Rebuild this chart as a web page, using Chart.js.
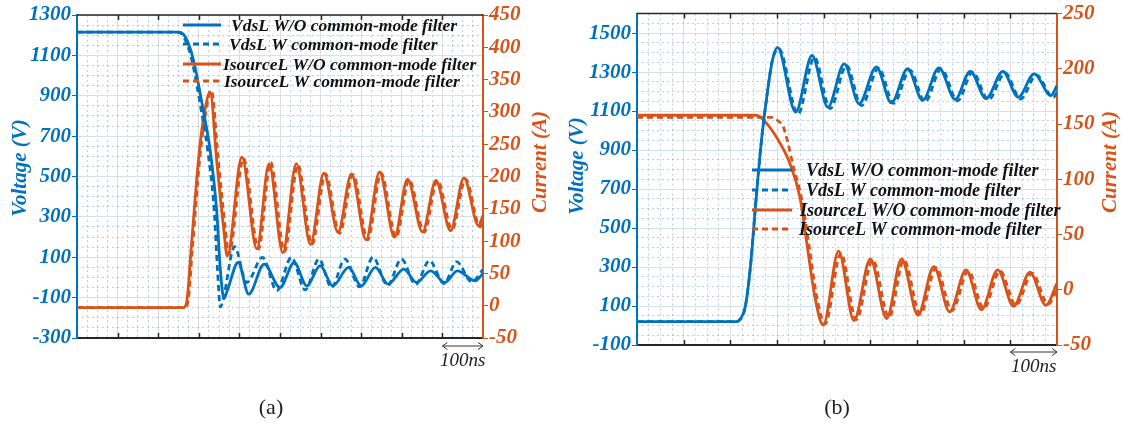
<!DOCTYPE html>
<html>
<head>
<meta charset="utf-8">
<script src="https://cdn.jsdelivr.net/npm/chart.js@4.4.1/dist/chart.umd.min.js"></script>
<style>
	html, body { margin: 0; padding: 0; background: #fff; }
	body { width: 1128px; height: 426px; position: relative; overflow: hidden; }
	.panel { position: absolute; top: 0; width: 564px; height: 426px; }
	#panel-a { left: 0; }
	#panel-b { left: 564px; }
	.caption { position: absolute; top: 394px; line-height: 26px; font: 22px "Liberation Serif", serif; color: #222; transform: translateX(-50%); }
</style>
</head>
<body>
<div class="panel" id="panel-a"><canvas id="chart-a"></canvas></div>
<div class="panel" id="panel-b"><canvas id="chart-b"></canvas></div>
<div class="caption" style="left:271px">(a)</div>
<div class="caption" style="left:837px">(b)</div>
<script>
// legend text, same for both panels
const legendLabels = [
	"VdsL W/O common-mode filter",
	"VdsL W common-mode filter",
	"IsourceL W/O common-mode filter",
	"IsourceL W common-mode filter",
];
const voltageTitle = "Voltage (V)";
const currentTitle = "Current (A)";
const scaleBarLabel = "100ns";

//* panel (a): time in ns, voltage in V, current in A
const aTimeTicks = [0, 100, 200, 300, 400, 500, 600, 700, 800, 900, 1000];
const aVoltTicks = [-300, -100, 100, 300, 500, 700, 900, 1100, 1300];
const aCurrTicks = [-50, 0, 50, 100, 150, 200, 250, 300, 350, 400, 450];

const aVdsWoT = [0, 250, 262, 274, 287, 311, 328, 344, 353, 362, 371, 397, 423, 461, 500, 535, 566, 599, 630, 669, 700, 735, 766, 805, 836, 871, 906, 937, 981, 1000];
const aVdsWoV = [1215, 1215, 1205, 1161, 1076, 828, 629, 331, 40, -105, -60, 74, -83, 66, -50, 74, -42, 58, -42, 50, -42, 50, -33, 41, -25, 33, -25, 33, -17, 20];
const aVdsWT = [0, 246, 258, 270, 283, 306, 322, 338, 346, 353, 360, 388, 418, 457, 492, 528, 562, 596, 627, 660, 696, 729, 765, 799, 834, 868, 904, 935, 972, 1000];
const aVdsWV = [1215, 1215, 1205, 1161, 1076, 828, 629, 331, 40, -146, -110, 152, -25, 99, -65, 99, -62, 91, -50, 91, -47, 100, -40, 91, -35, 83, -30, 78, -22, 40];
const aIsWoT = [0, 262, 270, 282, 299, 311, 328, 344, 361, 370, 406, 443, 473, 507, 540, 575, 608, 643, 676, 712, 745, 782, 814, 851, 884, 920, 953, 989, 1000];
const aIsWoV = [-3, -3, 5, 95, 225, 287, 331, 225, 121, 77, 230, 88, 220, 82, 220, 95, 205, 114, 204, 102, 207, 106, 196, 114, 194, 116, 198, 124, 140];
const aIsWT = [0, 264, 273, 285, 302, 314, 331, 348, 365, 374, 410, 447, 477, 511, 544, 579, 612, 647, 680, 716, 749, 786, 818, 855, 888, 924, 957, 993, 1000];
const aIsWV = [-3, -3, 5, 95, 225, 287, 333, 225, 121, 80, 228, 88, 222, 84, 218, 95, 204, 112, 203, 102, 205, 106, 195, 114, 194, 118, 196, 122, 130];

//* panel (b)
const bTimeTicks = [0, 100, 200, 300, 400, 500, 600, 700, 800, 900];
const bVoltTicks = [-100, 100, 300, 500, 700, 900, 1100, 1300, 1500];
const bCurrTicks = [-50, 0, 50, 100, 150, 200, 250];

const bVdsWoT = [0, 212, 222, 232, 243, 255, 266, 278, 290, 301, 340, 375, 409, 444, 476, 513, 545, 580, 612, 647, 682, 714, 748, 784, 817, 851, 887, 900];
const bVdsWoV = [20, 20, 35, 96, 301, 643, 933, 1171, 1359, 1427, 1095, 1385, 1120, 1342, 1138, 1327, 1142, 1317, 1155, 1322, 1160, 1304, 1164, 1303, 1171, 1291, 1180, 1231];
const bVdsWT = [0, 212, 222, 232, 243, 255, 266, 278, 290, 304, 345, 380, 414, 449, 481, 518, 550, 585, 617, 652, 687, 719, 753, 789, 822, 856, 892, 900];
const bVdsWV = [20, 20, 35, 96, 301, 643, 933, 1171, 1359, 1420, 1085, 1375, 1112, 1333, 1128, 1320, 1140, 1310, 1148, 1316, 1152, 1300, 1158, 1296, 1162, 1285, 1170, 1195];
const bIsWoT = [0, 255, 268, 299, 328, 349, 364, 381, 399, 432, 465, 500, 535, 567, 602, 636, 670, 705, 738, 773, 807, 842, 876, 900];
const bIsWoV = [158, 158, 155, 138, 114, 84, 42, -6, -32, 35, -28, 28, -26, 28, -23, 21, -20, 18, -18, 18, -15, 16, -14, 6];
const bIsWT = [0, 290, 302, 313, 324, 333, 352, 368, 385, 403, 437, 470, 505, 540, 572, 607, 641, 675, 710, 743, 778, 812, 847, 881, 900];
const bIsWV = [156, 156, 153, 148, 132, 115, 84, 42, -6, -31, 33, -27, 27, -25, 27, -22, 20, -19, 17, -17, 17, -14, 15, -13, 0];

const blue = "#0072BD";
const orange = "#D95319";
const serif = '"Liberation Serif", "Times New Roman", serif';
const tickFont = { family: serif, size: 21, style: "italic", weight: "bold" };

function toPoints(t, v) {
	return t.map((tt, i) => ({ x: tt, y: v[i] }));
}

function lineSet(label, t, v, color, dashed, axis) {
	return {
		label: label,
		data: toPoints(t, v),
		borderColor: color,
		backgroundColor: color,
		borderWidth: 2.8,
		borderDash: dashed ? [6, 4] : [],
		pointRadius: 0,
		cubicInterpolationMode: "monotone",
		yAxisID: axis,
		fill: false,
	};
}

function stepTicks(min, max, step) {
	const out = [];
	for (let v = min; v <= max + 1e-9; v += step) out.push(v);
	return out;
}

function onStep(v, base, step) {
	const r = (v - base) / step;
	return Math.abs(r - Math.round(r)) < 1e-6;
}

//* frame, inside ticks, legend, axis titles and the 100ns scale bar
const sketchDecor = {
	id: "sketchDecor",
	afterDatasetsDraw(chart, args, opts) {
		const { ctx, chartArea: ca, scales } = chart;
		const x = scales.x;
		ctx.save();

		ctx.strokeStyle = "#262626";
		ctx.lineWidth = 1.5;
		ctx.beginPath();
		ctx.moveTo(ca.left, ca.top);
		ctx.lineTo(ca.right, ca.top);
		ctx.stroke();
		x.ticks.forEach((t) => {
			const px = Math.round(x.getPixelForValue(t.value)) + 0.5;
			if (px <= ca.left + 2 || px >= ca.right - 2) return;
			ctx.beginPath();
			ctx.moveTo(px, ca.bottom);
			ctx.lineTo(px, ca.bottom - 5);
			ctx.moveTo(px, ca.top);
			ctx.lineTo(px, ca.top + 5);
			ctx.stroke();
		});

		// legend
		const lg = opts.legend;
		ctx.font = `italic bold ${lg.size}px ${serif}`;
		ctx.textBaseline = "middle";
		ctx.textAlign = "left";
		chart.data.datasets.forEach((ds, i) => {
			ctx.strokeStyle = ds.borderColor;
			ctx.lineWidth = ds.borderWidth;
			ctx.setLineDash(ds.borderDash);
			ctx.beginPath();
			ctx.moveTo(lg.x1, lg.ys[i]);
			ctx.lineTo(lg.x2, lg.ys[i]);
			ctx.stroke();
			ctx.setLineDash([]);
			ctx.fillStyle = "#111";
			ctx.fillText(ds.label, lg.textX[i], lg.ys[i] + 1);
		});

		// axis titles, both read bottom to top
		ctx.font = `italic bold 21px ${serif}`;
		ctx.textAlign = "center";
		opts.titles.forEach((tt) => {
			ctx.save();
			ctx.translate(tt.x, tt.y);
			ctx.rotate(-Math.PI / 2);
			ctx.fillStyle = tt.color;
			ctx.fillText(tt.text, 0, 0);
			ctx.restore();
		});

		// scale bar
		const bar = opts.bar;
		const x1 = x.getPixelForValue(bar.from);
		const x2 = x.getPixelForValue(bar.to);
		ctx.strokeStyle = "#333";
		ctx.lineWidth = 1;
		ctx.beginPath();
		ctx.moveTo(x1, bar.y);
		ctx.lineTo(x2, bar.y);
		ctx.moveTo(x1 + 5, bar.y - 3.5);
		ctx.lineTo(x1, bar.y);
		ctx.lineTo(x1 + 5, bar.y + 3.5);
		ctx.moveTo(x2 - 5, bar.y - 3.5);
		ctx.lineTo(x2, bar.y);
		ctx.lineTo(x2 - 5, bar.y + 3.5);
		ctx.stroke();
		ctx.font = `italic 19px ${serif}`;
		ctx.fillStyle = "#222";
		ctx.fillText(scaleBarLabel, (x1 + x2) / 2, bar.textY);

		ctx.restore();
	},
};

function buildPanel(canvasId, p) {
	const datasets = [
		lineSet(legendLabels[0], p.vWoT, p.vWoV, blue, false, "yV"),
		lineSet(legendLabels[1], p.vWT, p.vWV, blue, true, "yV"),
		lineSet(legendLabels[2], p.iWoT, p.iWoV, orange, false, "yI"),
		lineSet(legendLabels[3], p.iWT, p.iWV, orange, true, "yI"),
	];
	const tMax = p.timeTicks[p.timeTicks.length - 1];
	const vMin = p.vMin, vMax = p.vMax;
	const iMin = p.currTicks[0], iMax = p.currTicks[p.currTicks.length - 1];
	const minorColor = "rgba(90,150,210,0.45)";

	const config = {
		type: "line",
		data: { datasets: datasets },
		options: {
			responsive: true,
			maintainAspectRatio: false,
			animation: false,
			layout: { padding: { top: p.top, left: 0, right: 0, bottom: 0 } },
			plugins: {
				legend: { display: false },
				tooltip: { enabled: false },
				sketchDecor: { legend: p.legend, titles: p.titles, bar: p.bar },
			},
			scales: {
				x: {
					type: "linear",
					min: 0,
					max: tMax,
					afterBuildTicks: (s) => { s.ticks = p.timeTicks.map((v) => ({ value: v })); },
					ticks: { display: false },
					grid: { color: "#dddddd", lineWidth: 1, drawTicks: false },
					border: { color: "#262626", width: 2 },
					afterFit: (s) => { s.height = p.xHeight; },
				},
				xMinor: {
					type: "linear",
					position: "bottom",
					min: 0,
					max: tMax,
					afterBuildTicks: (s) => { s.ticks = stepTicks(0, tMax, 25).map((v) => ({ value: v })); },
					ticks: { display: false },
					grid: {
						color: (c) => (onStep(c.tick.value, 0, 100) ? "rgba(0,0,0,0)" : minorColor),
						lineWidth: 1,
						drawTicks: false,
					},
					border: { display: false, dash: [2, 3] },
					afterFit: (s) => { s.height = 0; },
				},
				yMinor: {
					type: "linear",
					position: "left",
					min: vMin,
					max: vMax,
					afterBuildTicks: (s) => { s.ticks = stepTicks(vMin, vMax, 50).map((v) => ({ value: v })); },
					ticks: { display: false },
					grid: {
						color: (c) => (onStep(c.tick.value - vMin, 0, 200) ? "rgba(0,0,0,0)" : minorColor),
						lineWidth: 1,
						drawTicks: false,
					},
					border: { display: false, dash: [2, 3] },
					afterFit: (s) => { s.width = 0; },
				},
				yV: {
					type: "linear",
					position: "left",
					min: vMin,
					max: vMax,
					afterBuildTicks: (s) => { s.ticks = p.voltTicks.map((v) => ({ value: v })); },
					ticks: { color: blue, font: tickFont, padding: 1, callback: (v) => String(v) },
					grid: { color: "#cfe2f3", lineWidth: 1, tickColor: blue, tickLength: 5 },
					border: { color: blue, width: 2 },
					afterFit: (s) => { s.width = p.leftWidth; },
				},
				yI: {
					type: "linear",
					position: "right",
					min: iMin,
					max: iMax,
					afterBuildTicks: (s) => { s.ticks = p.currTicks.map((v) => ({ value: v })); },
					ticks: { color: orange, font: tickFont, padding: 1, callback: (v) => String(v) },
					grid: { drawOnChartArea: false, tickColor: orange, tickLength: 5 },
					border: { color: orange, width: 2 },
					afterFit: (s) => { s.width = p.rightWidth; },
				},
			},
		},
		plugins: [sketchDecor],
	};

	return new Chart(document.getElementById(canvasId), config);
}

buildPanel("chart-a", {
	vWoT: aVdsWoT, vWoV: aVdsWoV, vWT: aVdsWT, vWV: aVdsWV,
	iWoT: aIsWoT, iWoV: aIsWoV, iWT: aIsWT, iWV: aIsWV,
	timeTicks: aTimeTicks, voltTicks: aVoltTicks, currTicks: aCurrTicks,
	vMin: -300, vMax: 1300,
	top: 15, xHeight: 88, leftWidth: 77, rightWidth: 81,
	legend: { x1: 183, x2: 221, textX: [231, 229, 223, 224], ys: [25, 44, 64, 81], size: 17.5 },
	titles: [
		{ text: voltageTitle, x: 21, y: 168, color: blue },
		{ text: currentTitle, x: 541, y: 162, color: orange },
	],
	bar: { from: 900, to: 1000, y: 346, textY: 361 },
});

buildPanel("chart-b", {
	vWoT: bVdsWoT, vWoV: bVdsWoV, vWT: bVdsWT, vWV: bVdsWV,
	iWoT: bIsWoT, iWoV: bIsWoV, iWT: bIsWT, iWV: bIsWV,
	timeTicks: bTimeTicks, voltTicks: bVoltTicks, currTicks: bCurrTicks,
	vMin: -100, vMax: 1600,
	top: 13, xHeight: 81, leftWidth: 73, rightWidth: 71,
	legend: { x1: 188, x2: 228, textX: [242, 242, 236, 235], ys: [170, 190, 210, 229], size: 18 },
	titles: [
		{ text: voltageTitle, x: 14, y: 166, color: blue },
		{ text: currentTitle, x: 547, y: 162, color: orange },
	],
	bar: { from: 800, to: 900, y: 352, textY: 367 },
});
</script>
</body>
</html>
